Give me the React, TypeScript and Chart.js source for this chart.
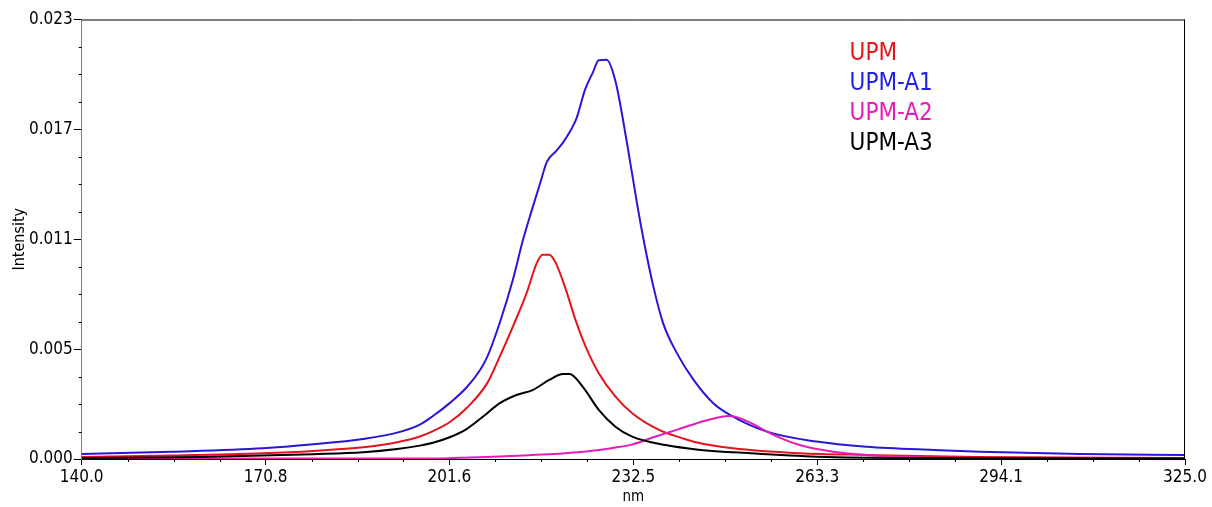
import React, { useEffect, useRef } from "react";
import { Chart, registerables } from "chart.js";

Chart.register(...registerables);

// ---- data (nm, intensity) ----
const upmNm = [140, 155, 170.4, 178.8, 187.2, 192.9, 196.7, 198.9, 201.8, 204.6, 208.0, 210.1, 212.3, 214.6, 216.3, 217.3, 218.4, 219.5, 221.2, 222.8, 224.5, 226.7, 229.5, 232.3, 236.8, 240.8, 243.0, 249.2, 260.4, 271.7, 290, 325];
const upmVal = [0.0001, 0.00018, 0.0003, 0.00042, 0.00061, 0.00088, 0.00118, 0.00146, 0.00195, 0.00268, 0.00397, 0.00536, 0.00693, 0.00868, 0.01025, 0.01069, 0.01069, 0.01025, 0.00885, 0.00728, 0.00588, 0.00449, 0.00326, 0.00239, 0.00152, 0.00108, 0.00088, 0.00056, 0.0003, 0.00021, 0.0001, 0.00005];

const a1Nm = [140, 155, 170.4, 178.8, 187.2, 192.9, 196.7, 198.9, 201.8, 204.6, 206.8, 208.0, 210.1, 212.3, 214.0, 215.5, 216.9, 218.0, 219.5, 220.7, 222.0, 223.0, 224.4, 225.7, 226.7, 228.0, 229.5, 231.4, 233.1, 234.2, 235.8, 237.5, 239.8, 242.6, 245.9, 248.7, 254.9, 263.2, 271.6, 282.8, 290.6, 307.4, 325];
const a1Val = [0.00026, 0.00038, 0.00056, 0.00077, 0.00105, 0.00138, 0.0018, 0.00225, 0.00295, 0.00377, 0.00466, 0.00534, 0.00713, 0.00938, 0.01147, 0.01305, 0.01446, 0.01555, 0.0161, 0.01656, 0.0172, 0.01785, 0.01933, 0.02022, 0.02087, 0.02089, 0.01977, 0.0166, 0.0134, 0.0115, 0.0091, 0.0071, 0.00554, 0.00414, 0.00292, 0.00231, 0.00143, 0.00091, 0.00064, 0.00047, 0.00038, 0.00026, 0.00021];

const a2Nm = [140, 170, 200, 205, 210, 215, 220, 225, 229.5, 232.5, 236, 240, 243.4, 246, 248.4, 250, 252.1, 255.9, 260.4, 266, 271.6, 277, 285, 300, 325];
const a2Val = [0.00002, 0.00002, 0.00003, 0.00008, 0.00013, 0.0002, 0.00028, 0.0004, 0.0006, 0.00078, 0.00115, 0.00155, 0.0019, 0.00212, 0.00225, 0.00218, 0.0019, 0.00128, 0.00073, 0.00038, 0.00021, 0.00012, 0.00006, 0.00003, 0.00002];

const a3Nm = [140, 160, 178.8, 187.2, 192.9, 196.7, 198.9, 201.8, 204.6, 207.3, 210.1, 212.9, 215.7, 218.4, 220.7, 221.8, 224.0, 226.7, 229.5, 232.3, 237.9, 243.4, 252.1, 263.3, 280, 325];
const a3Val = [0.00005, 0.0001, 0.00025, 0.00035, 0.00052, 0.0007, 0.00085, 0.00115, 0.00158, 0.00222, 0.00292, 0.00335, 0.00362, 0.00414, 0.00445, 0.00445, 0.00379, 0.00257, 0.00169, 0.00117, 0.00073, 0.00049, 0.0003, 0.00012, 0.00005, 0.00003];

const seriesNames = ["UPM", "UPM-A1", "UPM-A2", "UPM-A3"];
const seriesColors = ["#e3141b", "#2a16d6", "#e41cb8", "#000000"];
const legendColors = ["#e8141a", "#2020e6", "#e41cb8", "#000000"];

const xMin = 140;
const xMax = 325;
const yMin = 0;
const yMax = 0.023;
const xTickLabels = ["140.0", "170.8", "201.6", "232.5", "263.3", "294.1", "325.0"];
const yTickLabels = ["0.000", "0.005", "0.011", "0.017", "0.023"];

const FONT = '"DejaVu Sans Condensed", "Liberation Sans", sans-serif';

function pts(xs: number[], ys: number[]) {
  return xs.map((x, i) => ({ x, y: ys[i] }));
}

const evenTicks = (min: number, max: number, n: number) =>
  Array.from({ length: n }, (_, i) => min + ((max - min) * i) / (n - 1));

const framePlugin = {
  id: "frame",
  afterDraw(chart: any) {
    const { ctx, chartArea } = chart;
    const { left, right, top, bottom } = chartArea;
    ctx.save();
    ctx.strokeStyle = "#000";
    ctx.lineWidth = 1;
    ctx.beginPath();
    ctx.moveTo(left, top + 0.5);
    ctx.lineTo(right, top + 0.5);
    ctx.moveTo(right - 0.5, top);
    ctx.lineTo(right - 0.5, bottom);
    ctx.stroke();
    // minor ticks
    const xs = chart.scales.x;
    const ys = chart.scales.y;
    const xt = evenTicks(xMin, xMax, xTickLabels.length);
    const yt = evenTicks(yMin, yMax, yTickLabels.length);
    ctx.beginPath();
    for (let i = 0; i < xt.length - 1; i++) {
      for (let k = 1; k < 4; k++) {
        const v = xt[i] + ((xt[i + 1] - xt[i]) * k) / 4;
        const px = Math.round(xs.getPixelForValue(v)) + 0.5;
        ctx.moveTo(px, bottom);
        ctx.lineTo(px, bottom + 3);
      }
    }
    for (let i = 0; i < yt.length - 1; i++) {
      for (let k = 1; k < 4; k++) {
        const v = yt[i] + ((yt[i + 1] - yt[i]) * k) / 4;
        const py = Math.round(ys.getPixelForValue(v)) + 0.5;
        ctx.moveTo(left - 3, py);
        ctx.lineTo(left, py);
      }
    }
    ctx.stroke();
    // legend text
    ctx.font = "24px " + FONT;
    ctx.textBaseline = "middle";
    ctx.textAlign = "left";
    const lx = left + (right - left) * 0.696;
    seriesNames.forEach((name, i) => {
      ctx.fillStyle = legendColors[i];
      ctx.fillText(name, lx, top + 34 + i * 30);
    });
    ctx.restore();
  },
};

export default function App() {
  const ref = useRef<HTMLCanvasElement | null>(null);
  useEffect(() => {
    document.body.style.margin = "0";
    const canvas = ref.current;
    if (!canvas) return;
    const allData = [pts(upmNm, upmVal), pts(a1Nm, a1Val), pts(a2Nm, a2Val), pts(a3Nm, a3Val)];
    const chart = new Chart(canvas, {
      type: "line",
      data: {
        datasets: seriesNames.map((name, i) => ({
          label: name,
          data: allData[i],
          borderColor: seriesColors[i],
          backgroundColor: seriesColors[i],
          borderWidth: 2,
          pointRadius: 0,
          fill: false,
          cubicInterpolationMode: "monotone" as const,
          order: 4 - i,
        })),
      },
      options: {
        animation: false,
        responsive: true,
        maintainAspectRatio: false,
        layout: { padding: { left: 0, right: 27, top: 19.5, bottom: 0 } },
        plugins: { legend: { display: false }, tooltip: { enabled: false } },
        scales: {
          x: {
            type: "linear",
            min: xMin,
            max: xMax,
            afterBuildTicks: (s: any) => {
              s.ticks = evenTicks(xMin, xMax, xTickLabels.length).map((v) => ({ value: v }));
            },
            afterFit: (s: any) => {
              s.height = 48;
            },
            ticks: {
              autoSkip: false,
              maxRotation: 0,
              padding: 2,
              color: "#000",
              font: { family: FONT, size: 17 },
              callback: (_v: any, i: number) => xTickLabels[i],
            },
            grid: { drawOnChartArea: false, drawTicks: true, tickLength: 6, color: "#000" },
            border: { display: true, color: "#000", width: 1 },
            title: {
              display: true,
              text: "nm",
              color: "#000",
              font: { family: FONT, size: 15 },
              padding: { top: 0, bottom: 1 },
            },
          },
          y: {
            type: "linear",
            min: yMin,
            max: yMax,
            afterBuildTicks: (s: any) => {
              s.ticks = evenTicks(yMin, yMax, yTickLabels.length).map((v) => ({ value: v }));
            },
            afterFit: (s: any) => {
              s.width = 81.7;
            },
            ticks: {
              autoSkip: false,
              padding: 1,
              color: "#000",
              font: { family: FONT, size: 17 },
              callback: (_v: any, i: number) => yTickLabels[i],
            },
            grid: { drawOnChartArea: false, drawTicks: true, tickLength: 8, color: "#000" },
            border: { display: true, color: "#808080", width: 1 },
            title: {
              display: true,
              text: "Intensity",
              color: "#000",
              font: { family: FONT, size: 16 },
              padding: { top: 10, bottom: 0 },
            },
          },
        },
      },
      plugins: [framePlugin],
    });
    return () => chart.destroy();
  }, []);
  return (
    <div style={{ position: "fixed", left: 0, top: 0, width: 1212, height: 507, background: "#fff" }}>
      <canvas ref={ref} />
    </div>
  );
}
